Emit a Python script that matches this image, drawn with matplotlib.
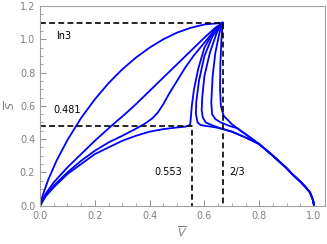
import numpy as np
import matplotlib.pyplot as plt

BLUE = (0, 0, 1)
GRAY = "#808080"

# upper envelope from the origin
va = [0, 0.01, 0.03, 0.06, 0.1, 0.15, 0.2, 0.25, 0.3, 0.35, 0.4, 0.45, 0.5, 0.55, 0.6, 0.6667]
sa = [0, 0.063, 0.156, 0.269, 0.394, 0.527, 0.639, 0.736, 0.819, 0.890, 0.950, 1.000, 1.040, 1.069, 1.089, 1.0986]

vb = [0, 0.02, 0.05, 0.1, 0.15, 0.2, 0.262, 0.31, 0.35, 0.4, 0.45, 0.5, 0.55, 0.6, 0.64, 0.6667]
sb = [0, 0.07, 0.14, 0.23, 0.31, 0.39, 0.482, 0.55, 0.61, 0.69, 0.77, 0.85, 0.93, 1.01, 1.07, 1.0986]

vc = [0, 0.02, 0.05, 0.1, 0.15, 0.2, 0.25, 0.3, 0.347, 0.38, 0.41, 0.43, 0.45, 0.47, 0.5, 0.53, 0.56, 0.6, 0.635, 0.6667]
sc = [0, 0.06, 0.12, 0.2, 0.27, 0.33, 0.38, 0.42, 0.46, 0.49, 0.525, 0.56, 0.61, 0.67, 0.75, 0.83, 0.9, 0.98, 1.05, 1.0986]

vd = [0, 0.02, 0.05, 0.1, 0.15, 0.2, 0.25, 0.3, 0.35, 0.4, 0.45, 0.5, 0.53, 0.542, 0.548, 0.55, 0.554, 0.562, 0.577, 0.6, 0.635, 0.6667]
sd = [0, 0.055, 0.11, 0.19, 0.25, 0.31, 0.35, 0.39, 0.42, 0.445, 0.46, 0.47, 0.475, 0.48, 0.49, 0.52, 0.6, 0.7, 0.82, 0.95, 1.05, 1.0986]

# curves starting at (1, 0), shared stretch
varc = [1.0, 0.995, 0.985, 0.97, 0.95, 0.92, 0.9, 0.85, 0.8]
sarc = [0, 0.04, 0.08, 0.11, 0.145, 0.19, 0.225, 0.3, 0.37]

# lower branch, hook near 0.57
ve = [0.75, 0.7, 0.65, 0.62, 0.6, 0.585, 0.575, 0.569, 0.57, 0.58, 0.6, 0.63, 0.6667]
se = [0.41, 0.445, 0.468, 0.476, 0.48, 0.486, 0.5, 0.55, 0.62, 0.75, 0.9, 1.02, 1.0986]

vf = [0.75, 0.7, 0.68, 0.65, 0.627, 0.605, 0.594, 0.59, 0.592, 0.6, 0.62, 0.645, 0.6667]
sf = [0.41, 0.445, 0.455, 0.47, 0.484, 0.5, 0.53, 0.574, 0.65, 0.78, 0.92, 1.04, 1.0986]

# upper branch
vg = [0.75, 0.72, 0.7, 0.686, 0.67, 0.66, 0.657, 0.658, 0.662, 0.6667]
sg = [0.43, 0.465, 0.49, 0.514, 0.54, 0.6, 0.7, 0.85, 1.0, 1.0986]

vh = [0.75, 0.72, 0.69, 0.66, 0.64, 0.628, 0.625, 0.63, 0.64, 0.655, 0.6667]
sh = [0.43, 0.465, 0.48, 0.5, 0.52, 0.55, 0.62, 0.78, 0.92, 1.04, 1.0986]

fig = plt.figure(figsize=(3.27, 2.44), dpi=100)
ax = fig.add_axes([0.1223, 0.157, 0.8716, 0.8184])

for v, s in [(va, sa), (vb, sb), (vc, sc), (vd, sd)]:
    ax.plot(v, s, color=BLUE, lw=1.3)
for v, s in [(ve, se), (vf, sf), (vg, sg), (vh, sh)]:
    ax.plot(varc + v, sarc + s, color=BLUE, lw=1.3)

dash = dict(color="black", ls=(0, (3.5, 2)), lw=1.2)
ax.plot([0, 2/3, 2/3], [np.log(3), np.log(3), 0], **dash)
ax.plot([0, 0.553, 0.553], [0.481, 0.481, 0], **dash)

ax.text(0.085, 1.02, "ln3", fontsize=7, ha="center", va="center")
ax.text(0.1, 0.575, "0.481", fontsize=7, ha="center", va="center")
ax.text(0.467, 0.2, "0.553", fontsize=7, ha="center", va="center")
ax.text(0.72, 0.2, "2/3", fontsize=7, ha="center", va="center")

ax.set_xlim(0, 1.04)
ax.set_ylim(0, 1.2)
ax.set_xticks(np.arange(0, 1.01, 0.2))
ax.set_yticks(np.arange(0, 1.21, 0.2))
ax.set_xticks(np.arange(0, 1.04, 0.05), minor=True)
ax.set_yticks(np.arange(0, 1.2, 0.05), minor=True)
ax.xaxis.set_major_formatter(plt.FormatStrFormatter("%.1f"))
ax.yaxis.set_major_formatter(plt.FormatStrFormatter("%.1f"))
ax.tick_params(which="both", direction="in", colors=GRAY, labelsize=7, labelcolor=GRAY)
ax.tick_params(which="major", length=4, width=0.6)
ax.tick_params(which="minor", length=2, width=0.5)
for sp in ax.spines.values():
    sp.set_color("#a0a0a0")
    sp.set_linewidth(0.8)
ax.set_xlabel(r"$\overline{V}$", fontsize=8, color=GRAY, labelpad=3)
ax.set_ylabel(r"$\overline{S}$", fontsize=8, color=GRAY, labelpad=2)

fig.savefig("out.png", dpi=100)
